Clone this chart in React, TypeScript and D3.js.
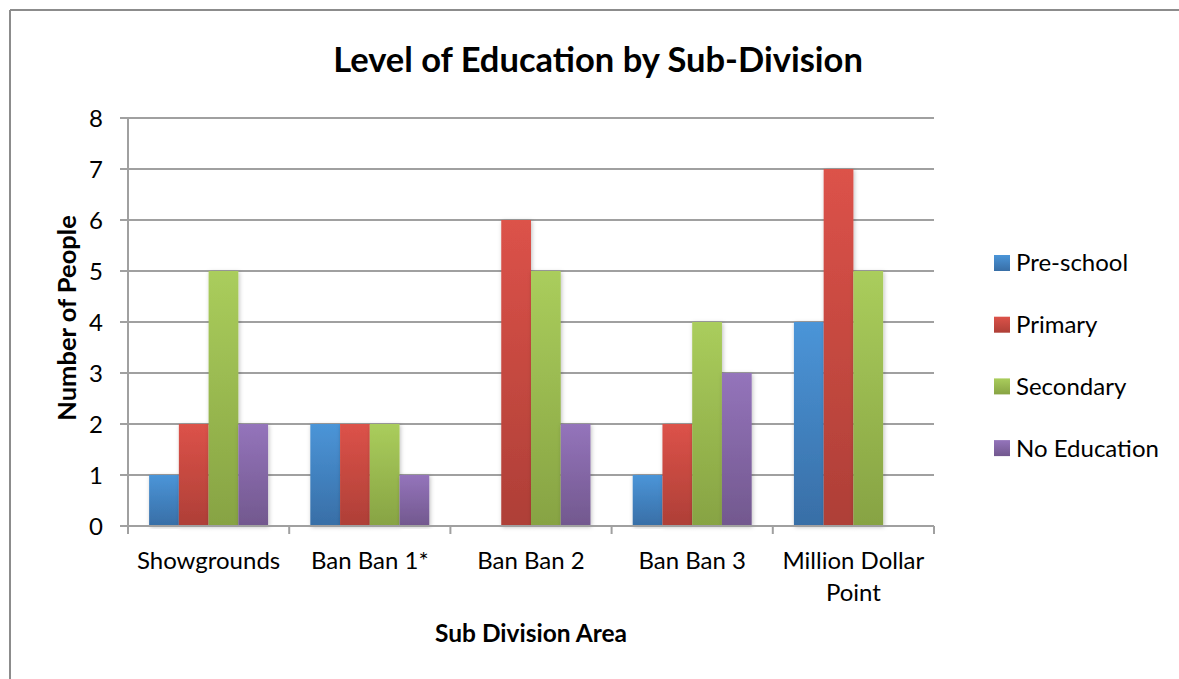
import React from "react";
import * as d3 from "d3";

const categories = ["Showgrounds", "Ban Ban 1*", "Ban Ban 2", "Ban Ban 3", "Million Dollar Point"];
const seriesNames = ["Pre-school", "Primary", "Secondary", "No Education"];
const preSchool = [1, 2, 0, 1, 4];
const primary = [2, 2, 6, 2, 7];
const secondary = [5, 2, 5, 4, 5];
const noEducation = [2, 1, 2, 3, 0];
const yTicks = [0, 1, 2, 3, 4, 5, 6, 7, 8];

const seriesValues = [preSchool, primary, secondary, noEducation];
const colorsTop = ["#4b95d8", "#dc5249", "#aacd5c", "#9474bb"];
const colorsBottom = ["#386ea6", "#ae3f37", "#87a343", "#72588e"];

const W = 1179;
const H = 679;
const FONT = "Lato, 'Open Sans', sans-serif";

export default function App() {
  const left = 128, right = 934, top = 118, bottom = 526;
  const x0 = d3.scaleBand<string>().domain(categories).range([left, right]).paddingInner(0).paddingOuter(0);
  const x1 = d3.scaleBand<string>().domain(seriesNames).range([0, x0.bandwidth()]).paddingInner(0).paddingOuter(0.71);
  const y = d3.scaleLinear().domain([0, 8]).range([bottom, top]);

  const boundaries = categories.map((c) => x0(c)!).concat([right]);

  return (
    <svg width={W} height={H} style={{ position: "absolute", left: 0, top: 0, background: "#fff" }}>
      <defs>
        {seriesNames.map((s, i) => (
          <linearGradient key={s} id={`g${i}`} x1="0" y1="0" x2="0" y2="1">
            <stop offset="0%" stopColor={colorsTop[i]} />
            <stop offset="100%" stopColor={colorsBottom[i]} />
          </linearGradient>
        ))}
        <filter id="shadow" x="-20%" y="-5%" width="140%" height="110%">
          <feDropShadow dx="1" dy="1" stdDeviation="2" floodColor="#000" floodOpacity="0.25" />
        </filter>
      </defs>
      {/* chart border */}
      <line x1={10} y1={10} x2={W} y2={10} stroke="#8c8c8c" strokeWidth={2} />
      <line x1={10} y1={10} x2={10} y2={H} stroke="#8c8c8c" strokeWidth={2} />

      {/* title */}
      <text x={598} y={72} textAnchor="middle" fontFamily={FONT} fontWeight="bold" fontSize={34.5} fill="#000">
        Level of Education by Sub-Division
      </text>

      {/* gridlines */}
      {yTicks.map((t) => (
        <g key={t}>
          <line x1={120} x2={right} y1={y(t)} y2={y(t)} stroke="#a0a0a0" strokeWidth={2} />
          <text x={103} y={y(t)} dy="0.36em" textAnchor="end" fontFamily={FONT} fontSize={24} fill="#000">
            {t}
          </text>
        </g>
      ))}

      {/* bars */}
      {categories.map((c, ci) => (
        <g key={c} transform={`translate(${x0(c)},0)`}>
          {seriesNames.map((s, si) => {
            const v = seriesValues[si][ci];
            if (!v) return null;
            return (
              <rect
                key={s}
                x={x1(s)}
                y={y(v)}
                width={x1.bandwidth()}
                height={y(0) - y(v)}
                fill={`url(#g${si})`}
                filter="url(#shadow)"
              />
            );
          })}
        </g>
      ))}

      {/* axes */}
      <line x1={left} x2={left} y1={top} y2={bottom} stroke="#a0a0a0" strokeWidth={2} />
      <line x1={left - 8} x2={right} y1={bottom} y2={bottom} stroke="#a0a0a0" strokeWidth={2} />
      {boundaries.map((b, i) => (
        <line key={i} x1={b} x2={b} y1={bottom} y2={bottom + 8} stroke="#a0a0a0" strokeWidth={2} />
      ))}

      {/* category labels */}
      {categories.map((c) => {
        const cx = x0(c)! + x0.bandwidth() / 2;
        const lines = c === "Million Dollar Point" ? ["Million Dollar", "Point"] : [c];
        return (
          <text key={c} x={cx} y={569} textAnchor="middle" fontFamily={FONT} fontSize={24} fill="#000">
            {lines.map((l, i) => (
              <tspan key={i} x={cx} dy={i === 0 ? 0 : 32}>
                {l}
              </tspan>
            ))}
          </text>
        );
      })}

      {/* axis titles */}
      <text x={531} y={642} textAnchor="middle" fontFamily={FONT} fontWeight="bold" fontSize={24.5} fill="#000">
        Sub Division Area
      </text>
      <text
        transform={`translate(76,${318}) rotate(-90)`}
        textAnchor="middle"
        fontFamily={FONT}
        fontWeight="bold"
        fontSize={25.5}
        fill="#000"
      >
        Number of People
      </text>

      {/* legend */}
      {seriesNames.map((s, i) => {
        const ly = 263 + i * 61.7;
        return (
          <g key={s}>
            <rect x={994} y={ly - 8} width={16} height={16} fill={`url(#g${i})`} />
            <text x={1016} y={ly} dy="0.35em" fontFamily={FONT} fontSize={24} fill="#000">
              {s}
            </text>
          </g>
        );
      })}
    </svg>
  );
}
